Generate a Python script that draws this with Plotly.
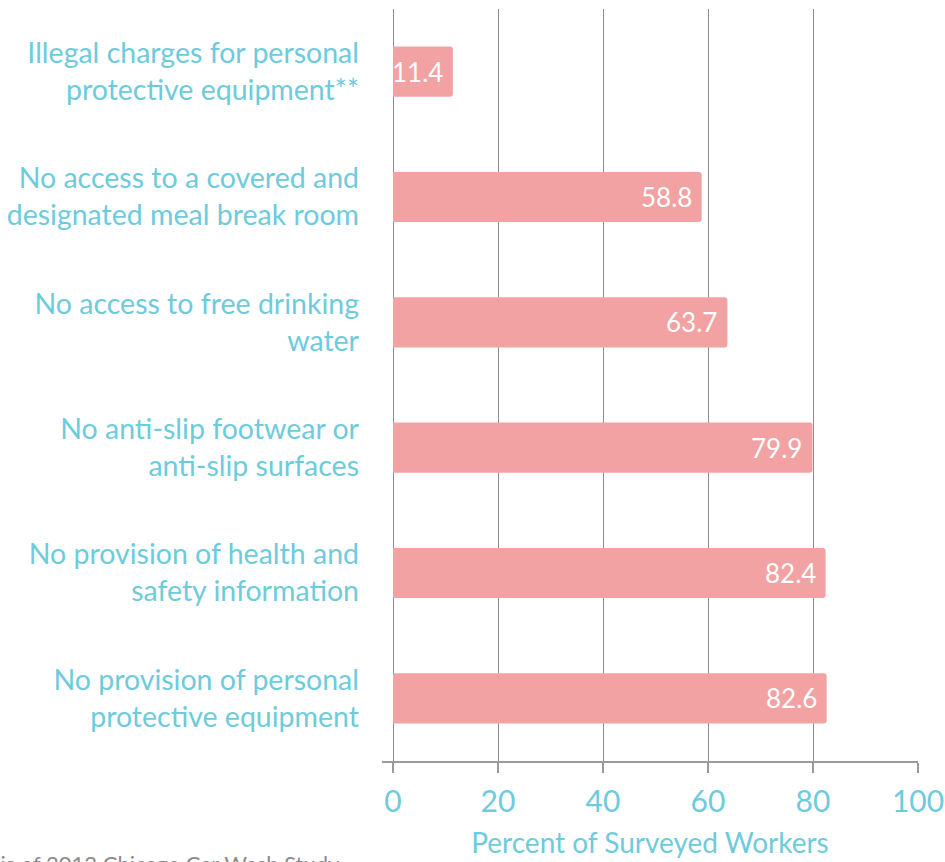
import plotly.graph_objects as go

# Survey results: share of workers reporting each condition (percent)
categories = [
    "Illegal charges for personal<br>protective equipment**",
    "No access to a covered and<br>designated meal break room",
    "No access to free drinking<br>water",
    "No anti-slip footwear or<br>anti-slip surfaces",
    "No provision of health and<br>safety information",
    "No provision of personal<br>protective equipment",
]
values = [11.4, 58.8, 63.7, 79.9, 82.4, 82.6]
x_ticks = [0, 20, 40, 60, 80, 100]

BLUE = "#6ecbdc"
PINK = "#f2a2a2"
FONT = "Lato"

# plot-area geometry in pixels
W, H = 945, 862
L, R, T, B = 382, 918, 9, 761

fig = go.Figure()
fig.add_trace(go.Bar(
    y=categories,
    x=values,
    orientation="h",
    width=0.4,
    marker=dict(color=PINK, line=dict(width=0)),
    hoverinfo="skip",
))

# value labels inside the bar ends
for cat, v in zip(categories, values):
    fig.add_annotation(
        x=v, y=cat, text=f"{v:.1f}", showarrow=False,
        xanchor="right", yanchor="middle", xshift=-8,
        font=dict(family=FONT, size=26, color="white"),
    )

# source line at the bottom left
fig.add_annotation(
    x=(342 - L) / (R - L), y=(B - 848) / (B - T),
    xref="paper", yref="paper",
    text="Source: Analysis of 2012 Chicago Car Wash Study",
    showarrow=False, xanchor="right", yanchor="top",
    font=dict(family=FONT, size=22, color="#8a8a8a"),
)

fig.update_layout(
    width=W, height=H, autosize=False,
    margin=dict(l=L, r=W - R, t=T, b=H - B, autoexpand=False),
    paper_bgcolor="white", plot_bgcolor="white",
    showlegend=False,
    barcornerradius=3,
    font=dict(family=FONT, color=BLUE),
    xaxis=dict(
        range=[-2.1, 100],
        tickvals=x_ticks,
        ticktext=[str(t) for t in x_ticks],
        showgrid=True, gridcolor="#8c8c8c", gridwidth=1,
        zeroline=False,
        showline=True, linecolor="#9a9a9a", linewidth=2,
        ticks="outside", ticklen=10, tickcolor="#9a9a9a", tickwidth=1.5,
        tickfont=dict(family=FONT, size=30, color=BLUE),
        ticklabelstandoff=3,
        automargin=False,
        title=dict(text="Percent of Surveyed Workers",
                   font=dict(family=FONT, size=28, color=BLUE),
                   standoff=16),
        fixedrange=True,
    ),
    yaxis=dict(
        range=[5.5, -0.5],
        showgrid=False, zeroline=False, showline=False,
        ticks="",
        tickfont=dict(family=FONT, size=28.5, color=BLUE),
        ticklabelstandoff=22,
        automargin=False,
        fixedrange=True,
    ),
)

fig.write_html("out.html")
